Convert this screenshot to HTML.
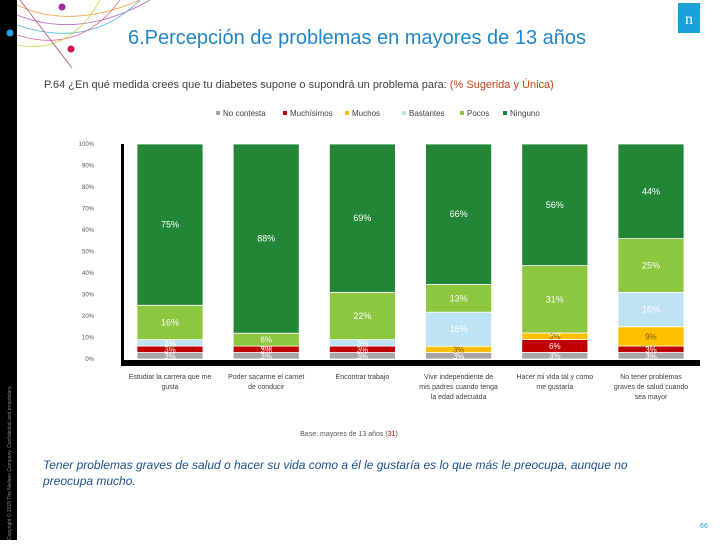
<!DOCTYPE html>
<html><head><meta charset="utf-8">
<style>
body{margin:0;width:720px;height:540px;background:#fff;overflow:hidden;font-family:"Liberation Sans",sans-serif;}
</style></head>
<body>
<svg width="720" height="540" viewBox="0 0 720 540" xmlns="http://www.w3.org/2000/svg">
<rect x="0" y="0" width="17" height="540" fill="#000"/>
<text transform="translate(11,540) rotate(-90)" font-size="5" fill="#888">Copyright © 2015 The Nielsen Company. Confidential and proprietary.</text>
<g fill="none" stroke-width="0.8">
<path d="M17,5 Q70,30 140,0" stroke="#e8a33b"/><path d="M17,15 Q80,40 150,0" stroke="#b565c7"/><path d="M17,25 Q90,50 140,0" stroke="#5ab4e0"/><path d="M17,35 Q80,55 120,0" stroke="#e06a8a"/><path d="M17,45 Q70,55 100,0" stroke="#c8d84a"/>
<line x1="20" y1="0" x2="72" y2="68" stroke="#b04a80"/>
<circle cx="62" cy="7" r="3.5" fill="#a02aa0"/><circle cx="71" cy="49" r="3.5" fill="#d0104a"/><circle cx="10" cy="33" r="3.5" fill="#2aa0e0"/>
</g>
<rect x="678" y="3" width="22" height="30" fill="#1aa0d8"/>
<text x="689" y="24" font-size="16" fill="#fff" text-anchor="middle" font-family="Liberation Serif,serif">n</text>
<text x="357" y="44" font-size="20" fill="#1f86c8" text-anchor="middle">6.Percepción de problemas en mayores de 13 años</text>
<text x="44" y="88" font-size="11" fill="#404040">P.64 ¿En qué medida crees que tu diabetes supone o supondrá un problema para: <tspan fill="#c8421a">(% Sugerida y Única)</tspan></text>
<g id="legend"></g>
<g id="chart"></g>
<text x="349" y="436" font-size="7" fill="#555" text-anchor="middle">Base: mayores de 13 años (<tspan fill="#c00000">31</tspan>)</text>
<text x="43" y="469" font-size="12" font-style="italic" fill="#1b4f8a">Tener problemas graves de salud o hacer su vida como a él le gustaría es lo que más le preocupa, aunque no</text>
<text x="43" y="485" font-size="12" font-style="italic" fill="#1b4f8a">preocupa mucho.</text>
<text x="704" y="528" font-size="7" fill="#1aa0d8" text-anchor="middle">66</text>
</svg>
<script>
const categories=[["Estudiar la carrera que me","gusta"],["Poder sacarme el carnet","de conducir"],["Encontrar trabajo"],["Vivir independiente de","mis padres cuando tenga","la edad adecuada"],["Hacer mi vida tal y como","me gustaría"],["No tener problemas","graves de salud cuando","sea mayor"]];
const seriesNames=["No contesta","Muchísimos","Muchos","Bastantes","Pocos","Ninguno"];
const noContesta=[3,3,3,3,3,3];
const muchisimos=[3,3,3,0,6,3];
const muchos=[0,0,0,3,3,9];
const bastantes=[3,0,3,16,0,16];
const pocos=[16,6,22,13,31,25];
const ninguno=[75,88,69,66,56,44];
const ticks=[0,10,20,30,40,50,60,70,80,90,100];
const colors=["#a6a6a6","#c00000","#ffc000","#bde3f5","#8dc63f","#238636"];
const labelColors=["#fff","#fff","#7a5a00","#fff","#fff","#fff"];
const series=[noContesta,muchisimos,muchos,bastantes,pocos,ninguno];
const NS="http://www.w3.org/2000/svg";
const chart=document.getElementById('chart');
const y0=359,y100=144;
function yS(v){return y0-(y0-y100)*v/100;}
function xS(i){return 137+i*96.2;}
const bw=66;
function mk(tag,attrs,parent){const e=document.createElementNS(NS,tag);for(const k in attrs)e.setAttribute(k,attrs[k]);parent.appendChild(e);return e;}
ticks.forEach(t=>{const e=mk('text',{x:94,y:yS(t)+2,'font-size':6,fill:'#555','text-anchor':'end'},chart);e.textContent=t+'%';

});
categories.forEach((c,i)=>{let acc=0;
const total=series.reduce((s,a)=>s+a[i],0)||1;
series.forEach((s,j)=>{const v=s[i];const sv=v*100/total;const top=yS(acc+sv),bot=yS(acc);
const r=mk('rect',{x:xS(i),y:top,width:bw,height:Math.max(0,bot-top),fill:colors[j],stroke:'#fff','stroke-width':0.8},chart);


if(v>0||j===2||j===3){const t=mk('text',{x:xS(i)+bw/2,y:(top+bot)/2+3,'font-size':v>=10?9:8,fill:labelColors[j],'text-anchor':'middle'},chart);t.textContent=v+'%';

}
acc+=sv;});
c.forEach((ln,k)=>{const t=mk('text',{x:xS(i)+bw/2,y:379+k*10,'font-size':7,fill:'#404040','text-anchor':'middle'},chart);t.textContent=ln;

});
});
const ax=mk('rect',{x:121,y:144,width:3,height:219,fill:'#000'},chart);


const bx=mk('rect',{x:121,y:360,width:579,height:6,fill:'#000'},chart);


const lg=document.getElementById('legend');
const lx=[216,283,345,402,460,503];
seriesNames.forEach((n,i)=>{const r=mk('rect',{x:lx[i],y:111,width:4,height:4,fill:colors[i]},lg);


const t=mk('text',{x:lx[i]+7,y:116,'font-size':8,fill:'#404040'},lg);t.textContent=n;

});
</script>
</body></html>
